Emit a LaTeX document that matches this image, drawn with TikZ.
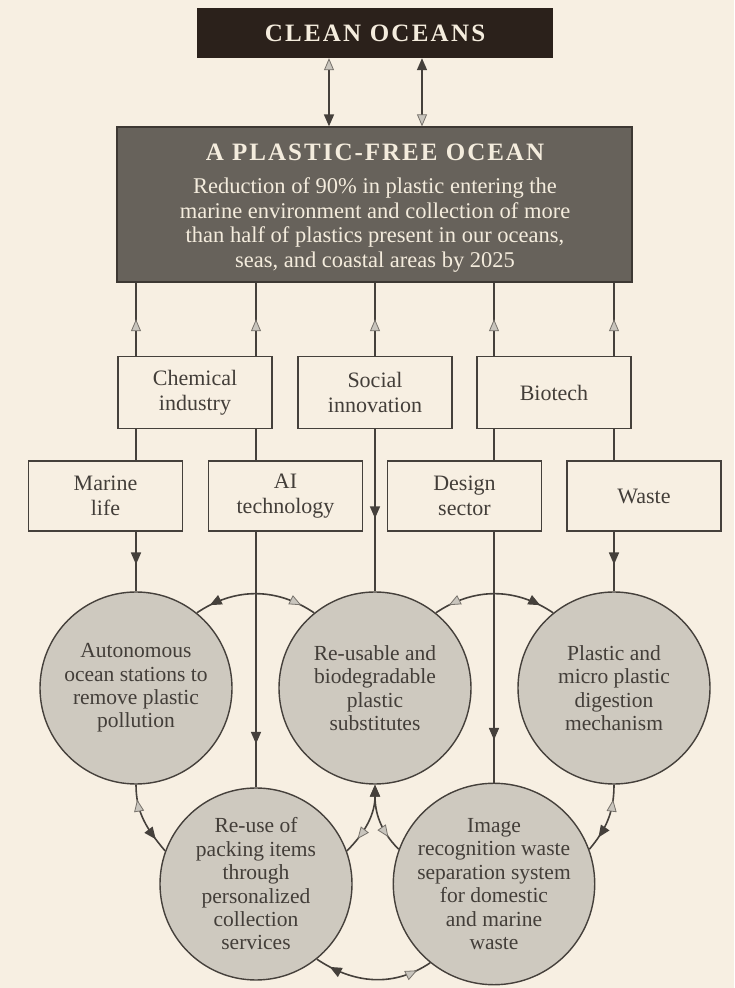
\documentclass[tikz,border=0pt]{standalone}
\usepackage{fontspec}
\setmainfont{Liberation Serif}
\usepackage{tikz}
\usetikzlibrary{arrows.meta, positioning, decorations.markings}
\definecolor{obg}{HTML}{F7EFE2}
\definecolor{otop}{HTML}{2B211B}
\definecolor{ogoal}{HTML}{67625B}
\definecolor{ogoaledge}{HTML}{3D3833}
\definecolor{ocream}{HTML}{F4ECDD}
\definecolor{oline}{HTML}{45403B}
\definecolor{otext}{HTML}{433E39}
\definecolor{ocircle}{HTML}{CEC9BF}
\definecolor{otiplight}{HTML}{C9C5BD}
\definecolor{otipedge}{HTML}{77726B}
\tikzset{
  darktip/.tip={Triangle[length=12pt, width=10pt, color=oline]},
  lighttip/.tip={Triangle[length=12pt, width=10pt, line width=0.8pt, fill=otiplight, color=otipedge]}
}

\begin{document}
\begin{tikzpicture}[x=1pt, y=1pt,
  sectorbox/.style={draw=oline, fill=obg, line width=1.5pt, minimum width=154pt,
    minimum height=72pt, align=center, text=otext, font=\fontsize{22}{25}\selectfont},
  idea/.style={circle, draw=oline, fill=ocircle, line width=1.4pt, minimum size=192pt,
    inner sep=0pt, align=center, text=otext, font=\fontsize{21.5}{23.4}\selectfont},
  link/.style={draw=oline, line width=1.6pt},
  uptip/.style={postaction=decorate, decoration={markings,
    mark=at position 0.5 with {\arrow{lighttip}}}},
  downtip/.style={postaction=decorate, decoration={markings,
    mark=at position #1 with {\arrow{darktip}}}},
  twotips/.style 2 args={postaction=decorate, decoration={markings,
    mark=at position 15pt with {\arrowreversed{#1}},
    mark=at position -15pt with {\arrow{#2}}}},
  nearend/.style={postaction=decorate, decoration={markings,
    mark=at position -16pt with {\arrow{#1}}}}
]
\useasboundingbox (0,0) rectangle (734,988);
\fill[obg] (0,0) rectangle (734,988);

% headline and goal
\node[fill=otop, minimum width=356pt, minimum height=50pt, text=ocream,
  font=\fontsize{25}{28}\selectfont\bfseries\addfontfeatures{LetterSpace=9}]
  (clean) at (375,955) {CLEAN OCEANS};
\node[draw=ogoaledge, fill=ogoal, line width=1.2pt, minimum width=515pt,
  minimum height=155pt] (goal) at (374.5,783.5) {};
\node[text=ocream, font=\fontsize{25}{28}\selectfont\bfseries\addfontfeatures{LetterSpace=8}]
  (goaltitle) at (375,836) {A PLASTIC-FREE OCEAN};
\node[text=ocream, align=center, font=\fontsize{22.5}{24.7}\selectfont]
  (goaltext) at (375,763) {Reduction of 90\% in plastic entering the\\
  marine environment and collection of more\\
  than half of plastics present in our oceans,\\
  seas, and coastal areas by 2025};
\coordinate (upleft) at (329,0);
\coordinate (upright) at (422,0);

% sectors
\node[sectorbox] (chem) at (195,595.5) {Chemical\\industry};
\node[sectorbox] (social) at (375,595.5) {Social\\innovation};
\node[sectorbox] (bio) at (554,595.5) {Biotech};
\node[sectorbox, minimum height=70pt] (marine) at (105.5,492) {Marine\\life};
\node[sectorbox, minimum height=70pt] (ai) at (285.5,492) {AI\\technology};
\node[sectorbox, minimum height=70pt] (design) at (464.5,492) {Design\\sector};
\node[sectorbox, minimum height=70pt] (waste) at (644,492) {Waste};

% solutions
\node[idea] (auto) at (136,300) {Autonomous\\ocean stations to\\remove plastic\\pollution};
\node[idea] (subst) at (375,300) {Re-usable and\\biodegradable\\plastic\\substitutes};
\node[idea] (digest) at (614,300) {Plastic and\\micro plastic\\digestion\\mechanism};
\node[idea] (reuse) at (256,104) {Re-use of\\packing items\\through\\personalized\\collection\\services};
\node[idea] (image) at (494,104) {Image\\recognition waste\\separation system\\for domestic\\and marine\\waste};

% goal <-> clean oceans
\draw[link, {lighttip}-{darktip}] (clean.south -| upleft) -- (goal.north -| upleft);
\draw[link, {darktip}-{lighttip}] (clean.south -| upright) -- (goal.north -| upright);

% sectors feed the goal
\foreach \src/\col in {chem/auto, chem/reuse, social/subst, bio/image, bio/digest}
  \draw[link, uptip] (\src.north -| \col) -- (goal.south -| \col);
\foreach \up/\dn/\col in {chem/marine/auto, chem/ai/reuse, bio/design/image, bio/waste/digest}
  \draw[link] (\up.south -| \col) -- (\dn.north -| \col);

% sectors feed the solutions
\draw[link, downtip=0.55] (marine.south -| auto) -- (auto.north);
\draw[link, downtip=0.55] (social.south -| subst) -- (subst.north);
\draw[link, downtip=0.55] (waste.south -| digest) -- (digest.north);
\draw[link, downtip=0.83] (ai.south -| reuse) -- (reuse.north);
\draw[link, downtip=0.83] (design.south -| image) -- (image.north);

% links between solutions
\draw[link, twotips={darktip}{lighttip}] (auto.51) to[out=34, in=146] (subst.129);
\draw[link, twotips={lighttip}{darktip}] (subst.51) to[out=34, in=146] (digest.129);
\draw[link, twotips={lighttip}{darktip}] (auto.south) to[out=-90, in=130] (reuse.160);
\draw[link, twotips={lighttip}{darktip}] (digest.south) to[out=-90, in=50] (image.20);
\draw[link, {darktip}-, nearend=lighttip] (subst.south) to[out=-90, in=45] (reuse.20);
\draw[link, {darktip}-, nearend=lighttip] (subst.south) to[out=-90, in=135] (image.160);
\draw[link, twotips={darktip}{lighttip}] (reuse.-51) to[out=-34, in=-146] (image.-129);
\end{tikzpicture}
\end{document}
